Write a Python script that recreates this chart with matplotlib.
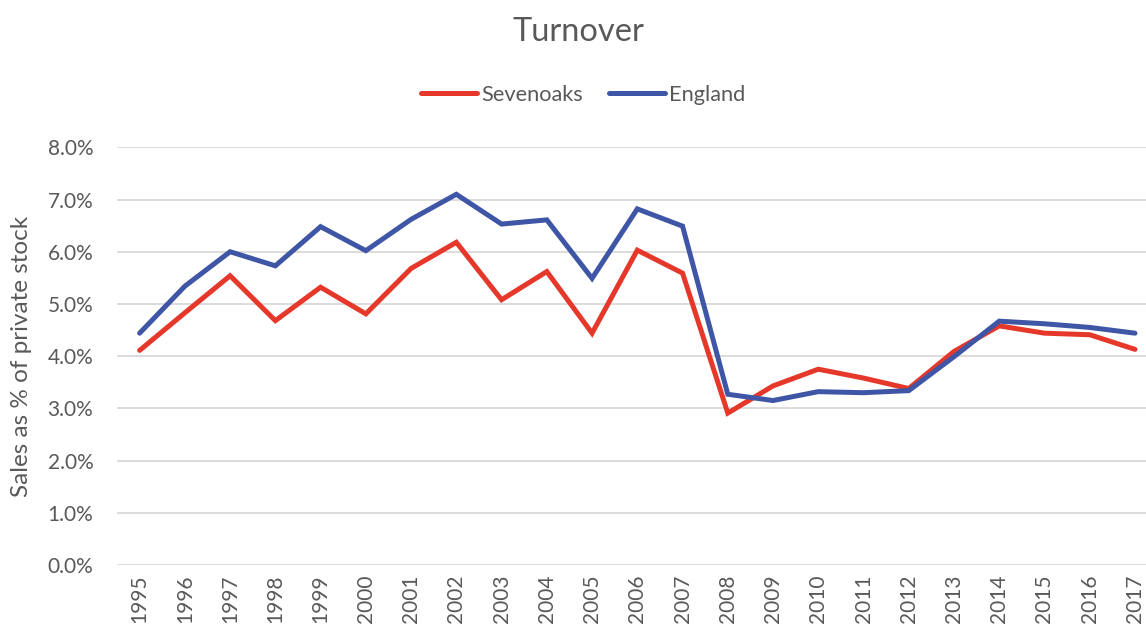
import matplotlib
matplotlib.use('Agg')
import matplotlib.pyplot as plt
from matplotlib.ticker import PercentFormatter

# values (percent of private stock)
years = [str(y) for y in range(1995, 2018)]
sevenoaks = [4.11, 4.83, 5.54, 4.68, 5.32, 4.81, 5.68, 6.18, 5.08, 5.62, 4.44, 6.03,
             5.59, 2.91, 3.43, 3.75, 3.58, 3.38, 4.09, 4.58, 4.44, 4.41, 4.13]
england = [4.44, 5.34, 6.00, 5.73, 6.48, 6.02, 6.62, 7.10, 6.53, 6.61, 5.49, 6.82,
           6.49, 3.27, 3.15, 3.32, 3.30, 3.34, 3.99, 4.67, 4.62, 4.55, 4.44]

plt.rcParams['font.family'] = ['Lato', 'DejaVu Sans']
text_col = '#595959'
red = '#E5382A'
blue = '#3F56A6'

fig = plt.figure(figsize=(11.46, 6.28), dpi=100)
ax = fig.add_axes([117 / 1146, 63 / 628, 1040.6 / 1146, 417.7 / 628])

x = range(len(years))
ax.plot(x, sevenoaks, color=red, lw=3.6, label='Sevenoaks', solid_capstyle='round', solid_joinstyle='miter')
ax.plot(x, england, color=blue, lw=3.6, label='England', solid_capstyle='round', solid_joinstyle='miter')

ax.set_xlim(-0.5, len(years) - 0.5)
ax.set_ylim(0, 8)
ax.set_yticks(range(0, 9))
ax.yaxis.set_major_formatter(PercentFormatter(decimals=1))
ax.set_xticks(list(x))
ax.set_xticklabels(years, rotation=90)

ax.grid(axis='y', color='#D9D9D9', lw=1.3)
ax.set_axisbelow(True)
for s in ax.spines.values():
    s.set_visible(False)
ax.tick_params(axis='both', length=0, colors=text_col, labelsize=15)
ax.tick_params(axis='x', pad=7)
ax.tick_params(axis='y', pad=17)

fig.text(22 / 1146, 1 - 356 / 628, 'Sales as % of private stock', rotation=90,
         ha='center', va='center', fontsize=17.5, color=text_col)
fig.text(578 / 1146, 1 - 32 / 628, 'Turnover', ha='center', va='center',
         fontsize=23.5, color=text_col)

leg = ax.legend(loc='center', bbox_to_anchor=(583 / 1146, 1 - 95 / 628),
                bbox_transform=fig.transFigure, ncol=2, frameon=False,
                fontsize=15.7, handlelength=2.57, handletextpad=0.18, columnspacing=1.2)
for t in leg.get_texts():
    t.set_color(text_col)

fig.savefig('out.png', dpi=100)
